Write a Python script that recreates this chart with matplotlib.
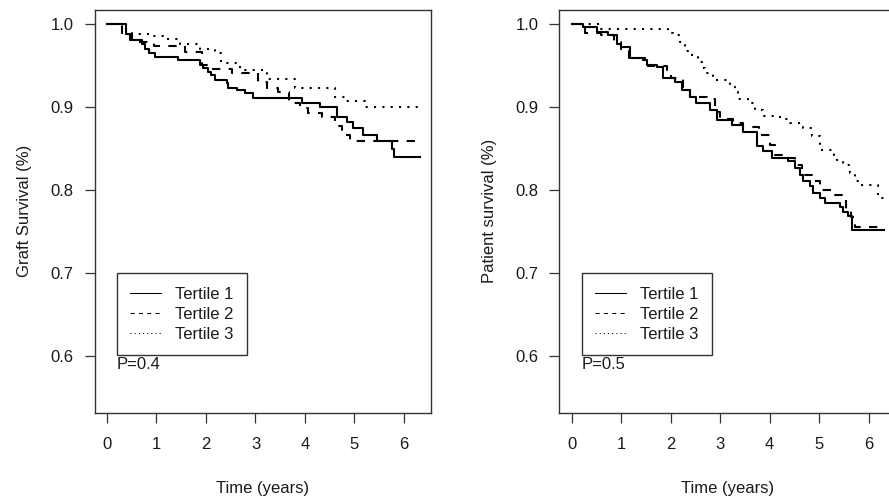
import numpy as np
import matplotlib
matplotlib.use('Agg')
import matplotlib.pyplot as plt
from matplotlib.lines import Line2D

plt.rcParams['font.family'] = ['Liberation Sans', 'DejaVu Sans']

# Graft survival (left panel): step times (years) and survival after each step
graft_t1_time = [0, 0.38, 0.47, 0.70, 0.77, 0.84, 0.97, 1.44, 1.88, 1.95, 2.05, 2.11, 2.18,
                 2.42, 2.45, 2.62, 2.79, 2.96, 3.93, 4.30, 4.64, 4.84, 4.98, 5.18, 5.45, 5.75, 5.80]
graft_t1_surv = [1.0, 0.989, 0.981, 0.977, 0.971, 0.965, 0.961, 0.957, 0.951, 0.947, 0.943, 0.939, 0.933,
                 0.929, 0.924, 0.921, 0.917, 0.911, 0.905, 0.901, 0.889, 0.883, 0.875, 0.867, 0.860, 0.850, 0.840]
graft_t2_time = [0, 0.31, 0.50, 0.94, 1.58, 1.91, 2.05, 2.52, 3.06, 3.23, 3.46, 3.68, 3.90,
                 4.07, 4.34, 4.61, 4.74, 4.91]
graft_t2_surv = [1.0, 0.990, 0.979, 0.974, 0.967, 0.951, 0.946, 0.941, 0.931, 0.923, 0.919, 0.905, 0.899,
                 0.893, 0.888, 0.878, 0.867, 0.860]
graft_t3_time = [0, 0.31, 0.46, 0.87, 1.17, 1.47, 1.88, 2.18, 2.30, 2.69, 3.23, 3.80, 4.61, 4.81, 5.21]
graft_t3_surv = [1.0, 0.9925, 0.989, 0.986, 0.982, 0.977, 0.971, 0.966, 0.954, 0.945, 0.934, 0.923,
                 0.913, 0.908, 0.901]
graft_end = [6.32, 6.30, 6.32]

# Patient survival (right panel)
pat_t1_time = [0, 0.235, 0.505, 0.74, 0.91, 0.99, 1.18, 1.45, 1.52, 1.72, 1.85, 2.09, 2.22, 2.39,
               2.52, 2.79, 2.93, 3.23, 3.47, 3.74, 3.87, 4.04, 4.38, 4.51, 4.61, 4.68, 4.81, 4.88,
               5.02, 5.12, 5.42, 5.49, 5.58, 5.66]
pat_t1_surv = [1.0, 0.997, 0.991, 0.987, 0.977, 0.973, 0.959, 0.957, 0.951, 0.949, 0.935, 0.931, 0.921,
               0.913, 0.905, 0.897, 0.885, 0.879, 0.871, 0.853, 0.847, 0.839, 0.835, 0.827, 0.819, 0.811,
               0.805, 0.797, 0.791, 0.785, 0.780, 0.774, 0.769, 0.752]
pat_t2_time = [0, 0.27, 0.60, 0.85, 1.00, 1.15, 1.48, 1.55, 1.92, 2.00, 2.25, 2.40, 2.73, 2.90, 3.00,
               3.25, 3.47, 3.79, 4.00, 4.10, 4.31, 4.52, 4.65, 4.88, 5.02, 5.27, 5.55, 5.65, 5.72]
pat_t2_surv = [1.0, 0.990, 0.987, 0.979, 0.971, 0.960, 0.957, 0.950, 0.945, 0.935, 0.923, 0.913, 0.910,
               0.895, 0.886, 0.881, 0.876, 0.867, 0.855, 0.843, 0.839, 0.831, 0.819, 0.811, 0.801, 0.795,
               0.775, 0.768, 0.756]
pat_t3_time = [0, 0.57, 1.95, 2.05, 2.19, 2.29, 2.42, 2.56, 2.63, 2.69, 2.86, 3.20, 3.30, 3.37, 3.57,
               3.70, 3.87, 4.21, 4.41, 4.68, 4.85, 5.02, 5.29, 5.35, 5.49, 5.62, 5.72, 5.82, 6.19]
pat_t3_surv = [1.0, 0.995, 0.990, 0.987, 0.979, 0.968, 0.963, 0.955, 0.947, 0.941, 0.933, 0.925, 0.919,
               0.910, 0.905, 0.897, 0.890, 0.886, 0.881, 0.875, 0.866, 0.849, 0.841, 0.837, 0.831, 0.821,
               0.811, 0.807, 0.791]
pat_end = [6.30, 6.30, 6.30]

labels = ['Tertile 1', 'Tertile 2', 'Tertile 3']
styles = ['-', (0, (4, 4)), (0, (1, 3))]
x_ticks = [0, 1, 2, 3, 4, 5, 6]
y_ticks = [0.6, 0.7, 0.8, 0.9, 1.0]

panels = [
    dict(times=[graft_t1_time, graft_t2_time, graft_t3_time],
         survs=[graft_t1_surv, graft_t2_surv, graft_t3_surv],
         ends=graft_end, ylabel='Graft Survival (%)', ptext='P=0.4', left=94.5),
    dict(times=[pat_t1_time, pat_t2_time, pat_t3_time],
         survs=[pat_t1_surv, pat_t2_surv, pat_t3_surv],
         ends=pat_end, ylabel='Patient survival (%)', ptext='P=0.5', left=559.2),
]

W, H = 889, 497
fig = plt.figure(figsize=(W / 100, H / 100), dpi=100)
fs = 12
ink = '#1a1a1a'

for p in panels:
    ax = fig.add_axes([p['left'] / W, (H - 412.9) / H, 336.8 / W, 403.4 / H])
    for t, s, end, ls in zip(p['times'], p['survs'], p['ends'], styles):
        tt = np.append(t, end)
        ss = np.append(s, s[-1])
        ax.step(tt, ss, where='post', color='black', lw=1.5, linestyle=ls)

    ax.set_xlim(-0.252, 6.552)
    ax.set_ylim(0.532, 1.018)
    ax.set_xticks(x_ticks)
    ax.set_yticks(y_ticks)
    ax.set_yticklabels(['%.1f' % v for v in y_ticks])
    ax.tick_params(axis='both', length=7, width=0.9, color='#333333',
                   labelsize=fs, labelcolor=ink)
    ax.tick_params(axis='x', pad=10.5)
    ax.tick_params(axis='y', pad=8)
    for sp in ax.spines.values():
        sp.set_color('#333333')
        sp.set_linewidth(1.0)

    ax.set_xlabel('Time (years)', fontsize=fs, color=ink)
    ax.xaxis.set_label_coords(0.5, -0.168)
    ax.set_ylabel(p['ylabel'], fontsize=fs, color=ink)
    ax.yaxis.set_label_coords(-0.185, 0.5)

    handles = [Line2D([], [], color='black', lw=0.75, linestyle=ls) for ls in styles]
    leg = ax.legend(handles, labels, loc='upper left', bbox_to_anchor=(0.2, 0.7),
                    bbox_transform=ax.transData, borderaxespad=0, frameon=True,
                    fancybox=False, edgecolor='#333333', framealpha=1, fontsize=fs,
                    handlelength=1.85, handletextpad=0.85, labelspacing=0.3, borderpad=0.8)
    leg.get_frame().set_linewidth(1.0)
    for txt in leg.get_texts():
        txt.set_color(ink)

    ax.text(0.2, 0.5845, p['ptext'], ha='left', va='baseline', fontsize=fs, color=ink,
            zorder=6)

fig.savefig('out.png', dpi=100)
